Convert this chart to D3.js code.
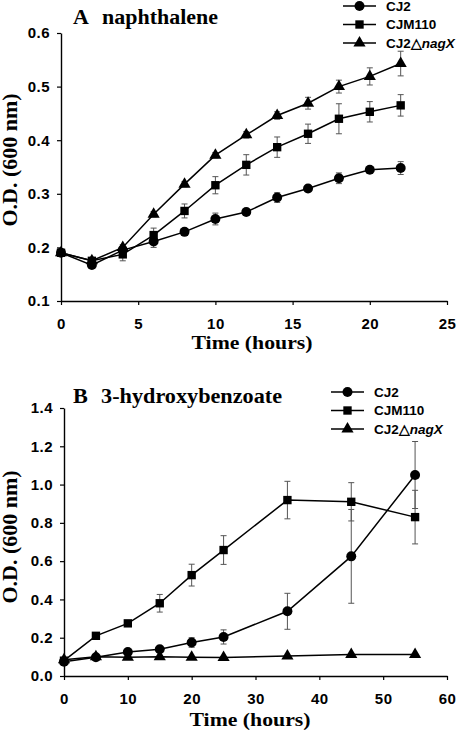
<!DOCTYPE html>
<html><head><meta charset="utf-8">
<script src="https://cdn.jsdelivr.net/npm/d3@7"></script>
<style>body{margin:0;background:#fff}</style>
</head><body>
<svg id="c" width="466" height="731" xmlns="http://www.w3.org/2000/svg"></svg>
<script>
// ---- Panel A: naphthalene ----
const timeA = [0, 2, 4, 6, 8, 10, 12, 14, 16, 18, 20, 22];
const cj2A = [0.190, 0.167, 0.195, 0.211, 0.229, 0.253, 0.266, 0.293, 0.310, 0.329, 0.345, 0.348];
const cj2AErr = [0.006, 0.005, 0.006, 0.011, 0.006, 0.011, 0.005, 0.009, 0.006, 0.010, 0.005, 0.012];
const cjm110A = [0.190, 0.175, 0.187, 0.223, 0.268, 0.316, 0.354, 0.387, 0.412, 0.440, 0.453, 0.465];
const cjm110AErr = [0.006, 0.005, 0.012, 0.013, 0.013, 0.016, 0.019, 0.019, 0.018, 0.028, 0.019, 0.020];
const nagXA = [0.190, 0.175, 0.200, 0.262, 0.318, 0.372, 0.410, 0.446, 0.469, 0.500, 0.519, 0.543];
const nagXAErr = [0.005, 0.005, 0.005, 0.005, 0.005, 0.005, 0.006, 0.007, 0.011, 0.012, 0.016, 0.023];
const xTicksA = [0, 5, 10, 15, 20, 25];
const yTicksA = [0.1, 0.2, 0.3, 0.4, 0.5, 0.6];

// ---- Panel B: 3-hydroxybenzoate ----
const timeB = [0, 5, 10, 15, 20, 25, 35, 45, 55];
const cj2B = [0.075, 0.098, 0.125, 0.140, 0.175, 0.204, 0.338, 0.625, 1.050];
const cj2BErr = [0.005, 0.008, 0.010, 0.012, 0.025, 0.037, 0.094, 0.245, 0.175];
const cjm110B = [0.080, 0.210, 0.275, 0.380, 0.527, 0.658, 0.919, 0.910, 0.830];
const cjm110BErr = [0.005, 0.010, 0.010, 0.046, 0.057, 0.075, 0.098, 0.100, 0.140];
const nagXB = [0.085, 0.100, 0.098, 0.100, 0.098, 0.097, 0.104, 0.112, 0.112];
const nagXBErr = [0.003, 0.003, 0.003, 0.003, 0.003, 0.003, 0.003, 0.003, 0.003];
const xTicksB = [0, 10, 20, 30, 40, 50, 60];
const yTicksB = [0, 0.2, 0.4, 0.6, 0.8, 1.0, 1.2, 1.4];

const seriesNames = ["CJ2", "CJM110", "CJ2\u25B3"];
const seriesItalic = ["", "", "nagX"];
const seriesSymbols = [d3.symbolCircle, d3.symbolSquare, d3.symbolTriangle];
const symbolSizes = [78, 70, 64];

const SANS = "'Liberation Sans', Arial, sans-serif";
const SERIF = "'Liberation Serif', 'Times New Roman', serif";
const svg = d3.select("#c");

function drawPanel(cfg) {
  const g = svg.append("g");
  const x = d3.scaleLinear().domain(cfg.xDomain).range(cfg.xRange);
  const y = d3.scaleLinear().domain(cfg.yDomain).range(cfg.yRange);

  // axes
  const ya = g.append("g").attr("transform", `translate(${cfg.xRange[0]},0)`)
    .call(d3.axisLeft(y).tickValues(cfg.yTicks).tickFormat(d3.format(".1f")).tickSize(4).tickSizeOuter(0).tickPadding(7));
  const xa = g.append("g").attr("transform", `translate(0,${cfg.yRange[0]})`)
    .call(d3.axisBottom(x).tickValues(cfg.xTicks).tickFormat(d3.format("d")).tickSize(4).tickSizeOuter(0).tickPadding(13));
  [ya, xa].forEach(a => {
    a.select(".domain").attr("stroke", "#000").attr("stroke-width", 1.4);
    a.selectAll(".tick line").attr("stroke", "#000").attr("stroke-width", 1.2);
    a.selectAll(".tick text").attr("fill", "#000").style("font-family", SANS)
      .style("font-weight", "bold").style("font-size", "15px").style("letter-spacing", "0.5px");
  });

  // error bars
  cfg.series.forEach(s => {
    const eb = g.append("g").attr("stroke", "#555").attr("stroke-width", 1).attr("fill", "none");
    cfg.time.forEach((t, i) => {
      const cx = x(t), y1 = y(s.values[i] - s.errors[i]), y2 = y(s.values[i] + s.errors[i]);
      eb.append("line").attr("x1", cx).attr("x2", cx).attr("y1", y1).attr("y2", y2);
      eb.append("line").attr("x1", cx - 3).attr("x2", cx + 3).attr("y1", y1).attr("y2", y1);
      eb.append("line").attr("x1", cx - 3).attr("x2", cx + 3).attr("y1", y2).attr("y2", y2);
    });
  });

  // lines + markers
  const line = d3.line().x(d => x(d[0])).y(d => y(d[1]));
  cfg.series.forEach((s, k) => {
    const pts = cfg.time.map((t, i) => [t, s.values[i]]);
    g.append("path").attr("d", line(pts)).attr("fill", "none").attr("stroke", "#000").attr("stroke-width", 1.5);
    g.selectAll(null).data(pts).enter().append("path")
      .attr("d", d3.symbol().type(seriesSymbols[k]).size(symbolSizes[k]))
      .attr("transform", d => `translate(${x(d[0])},${y(d[1])})`)
      .attr("fill", "#000");
  });

  // title
  const title = g.append("text").attr("x", cfg.titlePos[0]).attr("y", cfg.titlePos[1])
    .style("font-family", SERIF).style("font-weight", "bold").style("font-size", "20px")
    .attr("textLength", cfg.titleLen).attr("lengthAdjust", "spacingAndGlyphs");
  title.append("tspan").text(cfg.title[0]);
  title.append("tspan").attr("dx", 12).text(cfg.title[1]);

  // axis titles
  g.append("text").attr("transform", `translate(${cfg.yTitlePos[0]},${cfg.yTitlePos[1]}) rotate(-90)`)
    .attr("text-anchor", "middle").style("font-family", SERIF).style("font-weight", "bold").style("font-size", "20px")
    .attr("textLength", 133).attr("lengthAdjust", "spacingAndGlyphs")
    .text("O.D. (600 nm)");
  g.append("text").attr("x", cfg.xTitlePos[0]).attr("y", cfg.xTitlePos[1])
    .attr("text-anchor", "middle").style("font-family", SERIF).style("font-weight", "bold").style("font-size", "19px")
    .attr("textLength", 121).attr("lengthAdjust", "spacingAndGlyphs")
    .text("Time (hours)");

  // legend
  const lg = g.append("g");
  seriesNames.forEach((nm, k) => {
    const ly = cfg.legend.y0 + k * cfg.legend.dy;
    lg.append("line").attr("x1", cfg.legend.x0).attr("x2", cfg.legend.x0 + cfg.legend.len)
      .attr("y1", ly).attr("y2", ly).attr("stroke", "#000").attr("stroke-width", 1.5);
    lg.append("path").attr("d", d3.symbol().type(seriesSymbols[k]).size(symbolSizes[k]))
      .attr("transform", `translate(${cfg.legend.x0 + cfg.legend.len / 2},${ly})`).attr("fill", "#000");
    const t = lg.append("text").attr("x", cfg.legend.x0 + cfg.legend.len + 10).attr("y", ly + 4.5)
      .style("font-family", SANS).style("font-weight", "bold").style("font-size", "13.5px").attr("fill", "#000");
    t.append("tspan").text(nm);
    if (seriesItalic[k]) t.append("tspan").style("font-style", "italic").text(seriesItalic[k]);
  });
}

drawPanel({
  xDomain: [0, 25], xRange: [61, 447], yDomain: [0.1, 0.6], yRange: [301, 33],
  xTicks: xTicksA, yTicks: yTicksA, time: timeA,
  series: [
    {values: cj2A, errors: cj2AErr},
    {values: cjm110A, errors: cjm110AErr},
    {values: nagXA, errors: nagXAErr}
  ],
  title: ["A", "naphthalene"], titlePos: [73, 24], titleLen: 145,
  yTitlePos: [17, 160], xTitlePos: [252, 349],
  legend: {x0: 343, len: 33, y0: 6, dy: 18.5}
});

drawPanel({
  xDomain: [0, 60], xRange: [64, 447], yDomain: [0, 1.4], yRange: [676, 408],
  xTicks: xTicksB, yTicks: yTicksB, time: timeB,
  series: [
    {values: cj2B, errors: cj2BErr},
    {values: cjm110B, errors: cjm110BErr},
    {values: nagXB, errors: nagXBErr}
  ],
  title: ["B", "3-hydroxybenzoate"], titlePos: [73, 403], titleLen: 209,
  yTitlePos: [17, 537], xTitlePos: [250, 726],
  legend: {x0: 331, len: 33, y0: 392, dy: 18.5}
});
</script>
</body></html>
